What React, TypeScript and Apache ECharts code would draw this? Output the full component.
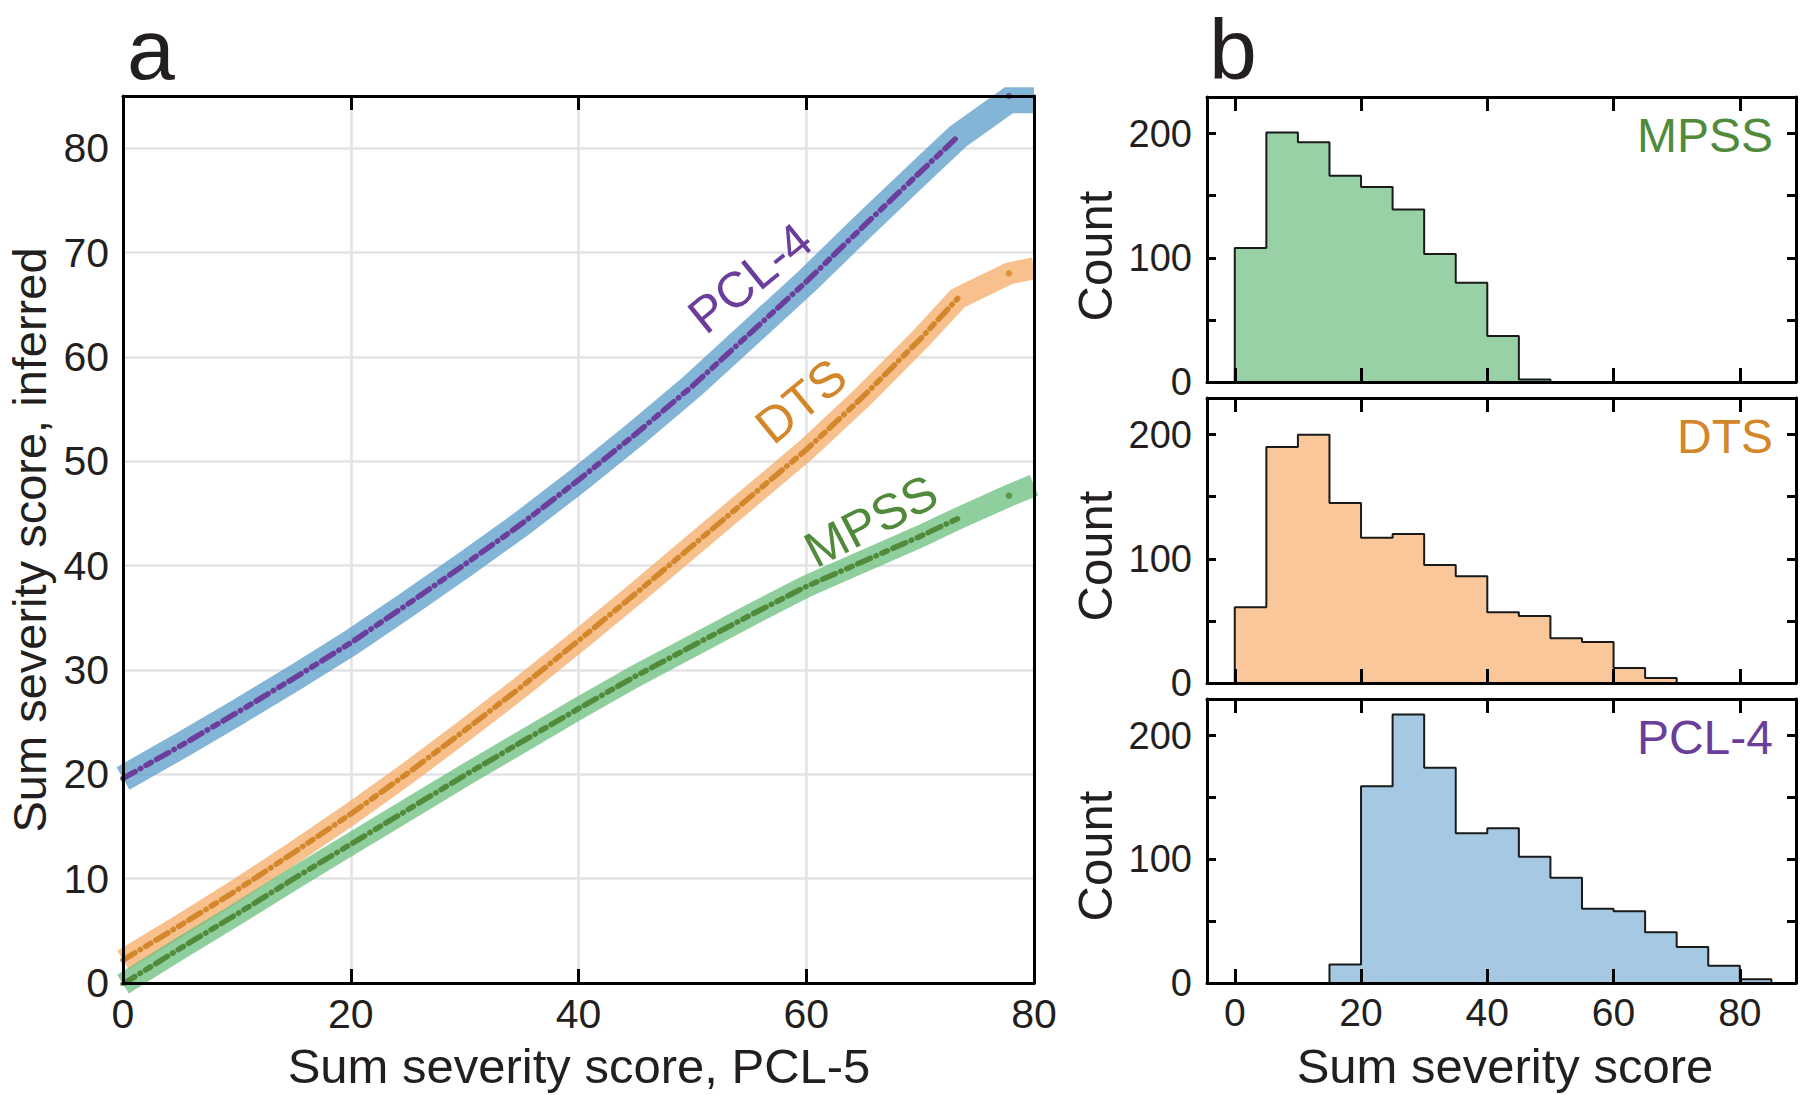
import { useEffect, useRef } from "react";
import * as echarts from "echarts";

// ---------- Panel a: inferred sum severity vs PCL-5 ----------
const curveX = [0, 5, 10, 15, 20, 25, 30, 35, 40, 45, 50, 55, 60, 65, 70, 73.3];
const pcl4Inferred = [19.6, 22.7, 25.9, 29.2, 32.6, 36.3, 40.1, 44.0, 48.2, 52.6, 57.2, 62.2, 67.2, 72.5, 77.7, 81.1];
const dtsInferred = [2.2, 5.5, 8.9, 12.5, 16.2, 20.1, 24.2, 28.4, 32.8, 37.3, 41.9, 46.5, 51.1, 56.2, 61.7, 65.6];
const mpssInferred = [-0.1, 3.3, 6.6, 10.0, 13.3, 16.6, 19.9, 23.1, 26.3, 29.4, 32.3, 35.2, 38.0, 40.4, 42.8, 44.5];

// band continuation beyond the dotted curve
const bandTailX = [77.8, 80];
const pcl4BandTail = [84.6, 84.6];
const dtsBandTail = [68.0, 68.5];
const mpssBandTail = [46.7, 47.7];

// isolated last points
const lastDotX = 77.8;
const pcl4LastDot = 85.0;
const dtsLastDot = 68.0;
const mpssLastDot = 46.7;

const aXTicks = [0, 20, 40, 60, 80];
const aYTicks = [0, 10, 20, 30, 40, 50, 60, 70, 80];

// ---------- Panel b: histograms (bin width 5) ----------
const binWidth = 5;
const mpssBinStart = 0;
const mpssCounts = [108, 201, 193, 166, 157, 139, 103, 80, 37, 2];
const dtsBinStart = 0;
const dtsCounts = [61, 190, 200, 145, 117, 120, 95, 86, 57, 54, 36, 33, 12, 4];
const pcl4BinStart = 15;
const pcl4Counts = [15, 159, 217, 174, 121, 125, 102, 85, 60, 58, 41, 29, 14, 3];

const bXTicks = [0, 20, 40, 60, 80];
const bYTicks = [0, 50, 100, 150, 200];
const bYLabels = [0, 100, 200];

const FONT = "'Liberation Sans', Arial, sans-serif";
const INK = "#231f20";

const PURPLE = "#6a3e9a";
const ORANGE = "#d4862a";
const GREEN = "#508a3a";

function zip(xs: number[], ys: number[]) {
  return xs.map((x, i) => [x, ys[i]]);
}

function stepPoints(start: number, counts: number[]) {
  const pts: number[][] = [[start, 0]];
  counts.forEach((c, i) => {
    const x0 = start + i * binWidth;
    pts.push([x0, c], [x0 + binWidth, c]);
  });
  pts.push([start + counts.length * binWidth, 0]);
  return pts;
}

export default function App() {
  const ref = useRef<HTMLDivElement>(null);

  useEffect(() => {
    if (!ref.current) return;
    const chart = echarts.init(ref.current, undefined, { renderer: "svg" });

    const frameLine = { show: true, onZero: false, lineStyle: { color: "#000", width: 3 } };
    const tickStyle = { color: "#000", width: 3 };

    const aX = { type: "value", min: 0, max: 80, interval: 20 };
    const aY = { type: "value", min: 0, max: 85, interval: 10 };
    const bX = { type: "value", min: -4.4, max: 88.9 };
    const bY = { type: "value", min: 0, max: 229.5 };

    const xAxis: any[] = [
      {
        ...aX, gridIndex: 0, position: "bottom", z: 10,
        axisLine: frameLine,
        axisTick: { show: true, inside: true, length: 14, lineStyle: tickStyle },
        axisLabel: {
          show: true, margin: 10, fontSize: 41, fontFamily: FONT, color: INK,
          customValues: aXTicks,
        },
        splitLine: { show: false },
      },
      {
        ...aX, gridIndex: 0, position: "top", z: 10,
        axisLine: frameLine,
        axisTick: { show: true, inside: true, length: 14, lineStyle: tickStyle },
        axisLabel: { show: false },
        splitLine: { show: false },
      },
      {
        ...aX, gridIndex: 0, position: "bottom", offset: 0, z: 0,
        axisLine: { show: false }, axisTick: { show: false }, axisLabel: { show: false },
        splitLine: { show: true, lineStyle: { color: "#e3e3e5", width: 2.5 } },
      },
    ];
    const yAxis: any[] = [
      {
        ...aY, gridIndex: 0, position: "left", z: 10,
        axisLine: frameLine,
        axisTick: { show: false },
        axisLabel: {
          show: true, margin: 14, fontSize: 41, fontFamily: FONT, color: INK,
          customValues: aYTicks,
        },
        splitLine: { show: false },
      },
      {
        ...aY, gridIndex: 0, position: "right", z: 10,
        axisLine: frameLine, axisTick: { show: false }, axisLabel: { show: false },
        splitLine: { show: false },
      },
      {
        ...aY, gridIndex: 0, position: "left", offset: 0, z: 0,
        axisLine: { show: false }, axisTick: { show: false }, axisLabel: { show: false },
        splitLine: { show: true, lineStyle: { color: "#e3e3e5", width: 2.5 } },
      },
    ];

    for (let g = 1; g <= 3; g++) {
      const isLast = g === 3;
      xAxis.push(
        {
          ...bX, gridIndex: g, position: "bottom", z: 10,
          axisLine: frameLine,
          axisTick: { show: true, inside: true, length: 14, lineStyle: tickStyle, customValues: bXTicks },
          axisLabel: {
            show: isLast, margin: 10, fontSize: 39, fontFamily: FONT, color: INK,
            customValues: bXTicks,
          },
          splitLine: { show: false },
        },
        {
          ...bX, gridIndex: g, position: "top", z: 10,
          axisLine: frameLine,
          axisTick: { show: true, inside: true, length: 14, lineStyle: tickStyle, customValues: bXTicks },
          axisLabel: { show: false },
          splitLine: { show: false },
        }
      );
      yAxis.push(
        {
          ...bY, gridIndex: g, position: "left", z: 10,
          axisLine: frameLine,
          axisTick: { show: true, inside: true, length: 9, lineStyle: tickStyle, customValues: bYTicks },
          axisLabel: {
            show: true, margin: 15, fontSize: 38, fontFamily: FONT, color: INK,
            customValues: bYLabels,
          },
          splitLine: { show: false },
        },
        {
          ...bY, gridIndex: g, position: "right", z: 10,
          axisLine: frameLine,
          axisTick: { show: true, inside: true, length: 9, lineStyle: tickStyle, customValues: bYTicks },
          axisLabel: { show: false },
          splitLine: { show: false },
        }
      );
    }

    const band = (name: string, ys: number[], tail: number[], color: string, width: number) => ({
      name, type: "line", xAxisIndex: 0, yAxisIndex: 0, z: 2,
      data: [...zip(curveX, ys), ...zip(bandTailX, tail)],
      showSymbol: false, smooth: false, clip: true,
      lineStyle: { color, width, cap: "butt", join: "miter" },
    });
    const dotted = (name: string, ys: number[], color: string) => ({
      name, type: "line", xAxisIndex: 0, yAxisIndex: 0, z: 3,
      data: zip(curveX, ys),
      showSymbol: false, clip: true,
      lineStyle: { color, width: 5.5, type: [14, 6, 0.5, 6, 6, 6], cap: "round" },
    });
    const lastDot = (name: string, y: number, color: string) => ({
      name, type: "scatter", xAxisIndex: 0, yAxisIndex: 0, z: 3,
      data: [[lastDotX, y]], symbolSize: 6.5, clip: true,
      itemStyle: { color },
    });
    const hist = (name: string, idx: number, start: number, counts: number[], fill: string) => ({
      name, type: "line", xAxisIndex: idx, yAxisIndex: idx, z: 2,
      data: stepPoints(start, counts),
      showSymbol: false, clip: true,
      lineStyle: { color: "#1a1a1a", width: 2 },
      areaStyle: { color: fill, opacity: 1 },
    });

    const series: any[] = [
      band("PCL-4 band", pcl4Inferred, pcl4BandTail, "rgba(92,158,202,0.76)", 26),
      band("DTS band", dtsInferred, dtsBandTail, "rgba(244,172,105,0.76)", 22),
      band("MPSS band", mpssInferred, mpssBandTail, "rgba(108,190,126,0.76)", 22),
      dotted("PCL-4", pcl4Inferred, PURPLE),
      dotted("DTS", dtsInferred, ORANGE),
      dotted("MPSS", mpssInferred, GREEN),
      lastDot("PCL-4 last", pcl4LastDot, PURPLE),
      lastDot("DTS last", dtsLastDot, ORANGE),
      lastDot("MPSS last", mpssLastDot, GREEN),
      hist("MPSS hist", 3, mpssBinStart, mpssCounts, "#97d1a5"),
      hist("DTS hist", 5, dtsBinStart, dtsCounts, "#f9c799"),
      hist("PCL-4 hist", 7, pcl4BinStart, pcl4Counts, "#a6c9e3"),
    ];

    const txt = (text: string, x: number, y: number, size: number, color: string, opts: any = {}) => ({
      type: "text", x, y, rotation: opts.rotation || 0, z: 20,
      style: {
        text, fill: color, fontSize: size, fontFamily: FONT,
        lineHeight: opts.lineHeight || size,
        align: opts.align || "center", verticalAlign: "middle",
      },
    });
    const deg = Math.PI / 180;

    const graphic: any[] = [
      txt("a", 127, 49, 86, INK, { align: "left" }),
      txt("b", 1209, 49, 86, INK, { align: "left" }),
      txt("Sum severity score, PCL-5", 579, 1066, 49, INK),
      txt("Sum severity score, inferred", 29, 540, 47, INK, { rotation: 90 * deg }),
      txt("PCL-4", 750, 278, 50, PURPLE, { rotation: 39 * deg }),
      txt("DTS", 801, 401, 50, ORANGE, { rotation: 39.5 * deg }),
      txt("MPSS", 871, 521, 50, GREEN, { rotation: 27.5 * deg }),
      txt("MPSS", 1773, 135, 48, GREEN, { align: "right" }),
      txt("DTS", 1773, 436, 48, ORANGE, { align: "right" }),
      txt("PCL-4", 1773, 737, 48, PURPLE, { align: "right" }),
      txt("Count", 1095, 256, 49, INK, { rotation: 90 * deg }),
      txt("Count", 1095, 556, 49, INK, { rotation: 90 * deg }),
      txt("Count", 1095, 856, 49, INK, { rotation: 90 * deg }),
      txt("Sum severity score", 1505, 1066, 49, INK),
    ];

    chart.setOption({
      animation: false,
      backgroundColor: "#ffffff",
      grid: [
        { left: 123, top: 96, width: 911, height: 887 },
        { left: 1207, top: 97, width: 589, height: 285 },
        { left: 1207, top: 398, width: 589, height: 285 },
        { left: 1207, top: 699, width: 589, height: 284 },
      ],
      xAxis,
      yAxis,
      series,
      graphic,
    });

    return () => chart.dispose();
  }, []);

  return (
    <div
      ref={ref}
      style={{ position: "fixed", left: 0, top: 0, width: 1800, height: 1095, background: "#fff" }}
    />
  );
}
